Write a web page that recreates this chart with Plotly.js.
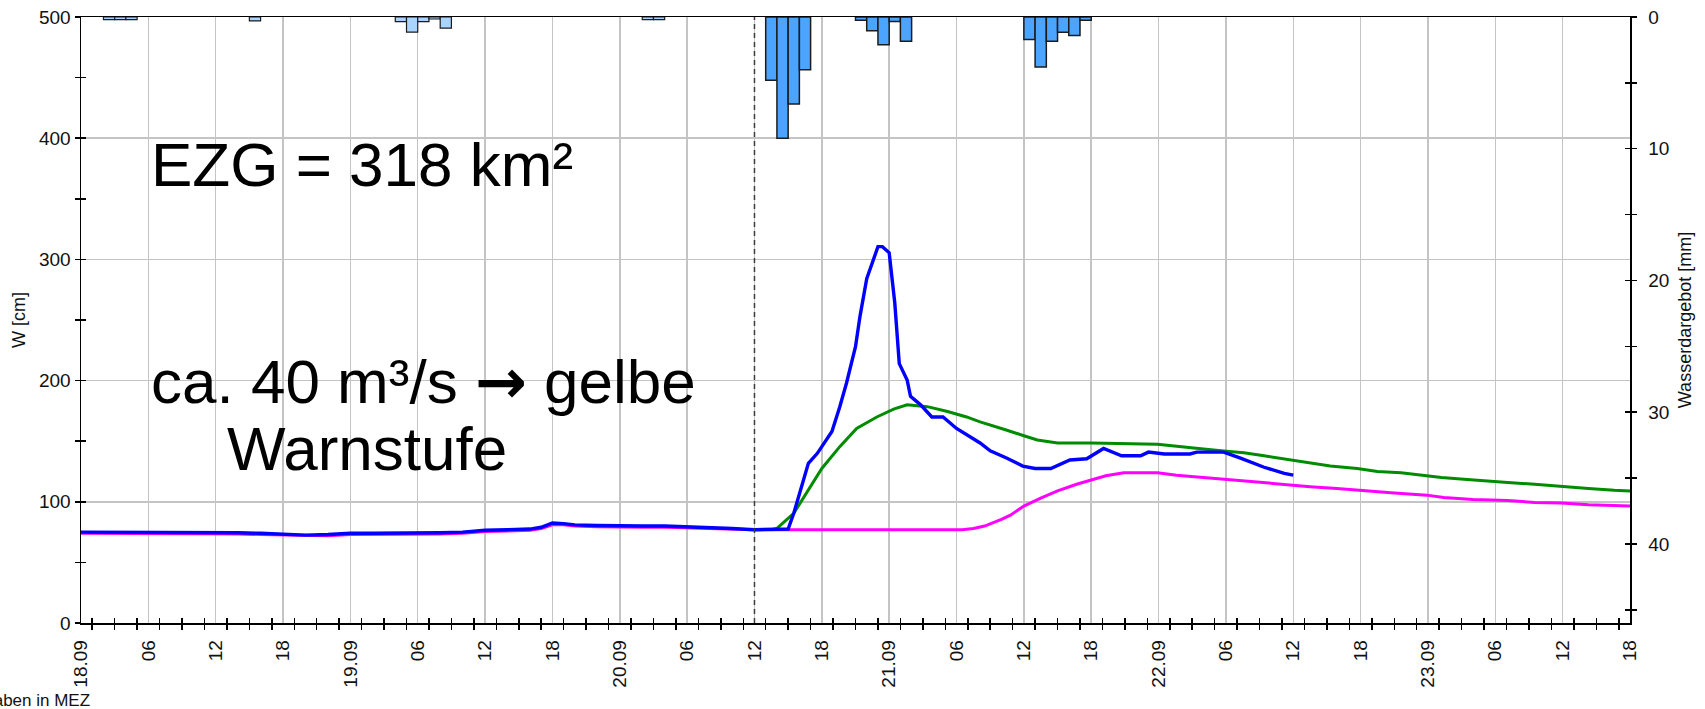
<!DOCTYPE html>
<html>
<head>
<meta charset="utf-8">
<script src="https://cdn.plot.ly/plotly-3.0.1.min.js"></script>
<style>
  html, body { margin: 0; padding: 0; background: #fff; }
  #chart { width: 1705px; height: 709px; }
</style>
</head>
<body>
<div id="chart"></div>
<script>
// Time axis: hours since 18.09 00:00 (MEZ)
const tickHours = [0, 6, 12, 18, 24, 30, 36, 42, 48, 54, 60, 66, 72, 78, 84, 90, 96, 102, 108, 114, 120, 126, 132, 138];
const tickLabels = ['18.09', '06', '12', '18', '19.09', '06', '12', '18', '20.09', '06', '12', '18',
                    '21.09', '06', '12', '18', '22.09', '06', '12', '18', '23.09', '06', '12', '18'];
const forecastStart = 60;   // 20.09 12:00
const axisEnd = 138;        // 23.09 18:00

// Gemessener Wasserstand W [cm]
const obsHours = [0, 4, 8, 12, 14, 16, 18, 20, 22, 24, 26, 28, 30, 32, 34, 36, 38, 40, 41, 42, 43, 44, 46, 48, 50, 52, 54, 56, 58, 60,
                  62, 63, 63.5, 64.2, 64.8, 65.6, 66.9, 67.6, 68.2, 69.0, 69.4, 70.0, 70.5, 71.0, 71.4, 72.0, 72.5, 72.9, 73.6, 73.9,
                  74.8, 75.8, 76.8, 78.0, 80.1, 81.0, 82.5, 83.9, 85.0, 86.4, 88.1, 89.6, 91.1, 92.7, 94.4, 95.1, 96.5, 98.8, 99.4,
                  101.8, 103.3, 105.4, 107.2, 108];
const obsLevel = [75, 75, 75, 75, 74.5, 74, 73.5, 72.5, 73, 74, 74, 74, 74, 74.5, 75, 76.5, 77, 77.5, 79, 82.5, 82, 81, 80.5, 80, 80, 80, 79.5, 79, 78, 77,
                  77, 77.5, 90.5, 112.5, 131.7, 140, 158, 178.5, 198, 228, 253, 284, 297, 310.5, 310.5, 305.5, 264, 214, 200.5, 187,
                  180, 170, 170, 160.5, 148.5, 142, 136, 129.5, 127.5, 127.5, 134.5, 135.5, 144, 138, 138, 141, 139.5, 139.5, 141,
                  141, 136, 128.5, 123.5, 122];

// Vorhersage mit Niederschlagsvorhersage W [cm]
const fcHours = [61.5, 62, 63.5, 64.7, 66.0, 67.6, 69.1, 70.9, 72.4, 73.6, 75.4, 77.2, 78.9, 80.1, 81.0, 82.5, 84.0, 85.2, 87.0, 90,
                 95.9, 98.2, 100.0, 101.8, 103.6, 105.4, 107.2, 109.5, 111.3, 113.7, 115.5, 117.6, 119.4, 121.2, 123.5, 125.3,
                 127.1, 129.5, 131.9, 134.3, 136.6, 138];
const fcLevel = [77, 78, 90.5, 108.5, 127.5, 145.5, 160.5, 170, 176.5, 180, 178.5, 174.5, 170, 166, 163.5, 159, 154.5, 151, 148.5, 148.5,
                 147.5, 145, 143.5, 142, 140.5, 138, 135.5, 132.5, 129.5, 127.5, 125, 124, 122, 120, 118.5, 117.5,
                 116, 114.5, 112.5, 111, 109.5, 109];

// Simulation ohne Niederschlagsvorhersage W [cm]
const simHours = [0, 4, 8, 12, 14, 16, 18, 20, 22, 24, 26, 28, 30, 32, 34, 36, 38, 40, 41, 42, 43, 44, 46, 48, 50, 52, 54, 56, 58, 60,
                  78.5, 79.5, 80.5, 81.0, 82.0, 82.8, 84.0, 85.5, 87.0, 88.7, 90.1, 91.3, 92.9, 95.9, 97.6, 99.4, 101.8, 103.6,
                  105.7, 107.8, 109.5, 111.9, 114.3, 116.7, 119.9, 121.4, 124.0, 127.1, 129.5, 131.9, 134.3, 138];
const simLevel = [74, 74, 74, 74, 73.5, 73, 72.5, 72, 72, 73, 73, 73, 73, 73.5, 74, 75.5, 76, 76.5, 78, 81, 81, 80, 79.5, 79, 79, 79, 78.5, 78, 77, 77,
                  77, 78, 80, 81.7, 85.5, 89, 96.5, 103, 109, 114.5, 118.5, 121.5, 124, 124, 122, 120.5, 119, 117.5,
                  115.5, 113.5, 112.5, 111, 109, 107.5, 105.5, 103.5, 102, 101, 99.5, 99, 97.5, 96.5];

// Wasserdargebot [mm] je Stunde (Beginn der Stunde)
const obsRainHours = [2, 3, 4, 15, 28, 29, 30, 31, 32, 50, 51];
const obsRainMm    = [0.2, 0.2, 0.2, 0.3, 0.35, 1.15, 0.35, 0.15, 0.85, 0.2, 0.2];
const fcRainHours  = [61, 62, 63, 64, 69, 70, 71, 72, 73, 84, 85, 86, 87, 88, 89];
const fcRainMm     = [4.8, 9.2, 6.6, 4.0, 0.25, 1.05, 2.1, 0.35, 1.85, 1.7, 3.8, 1.85, 1.15, 1.4, 0.25];

const FONT = 'Liberation Sans, Arial, sans-serif';
const tickFont = { family: FONT, size: 19, color: '#111' };
const titleFont = { family: FONT, size: 18, color: '#111' };
const gridColor = '#c4c4c4';

const traces = [
  {
    type: 'bar', x: obsRainHours, y: obsRainMm, xaxis: 'x', yaxis: 'y2',
    width: 1, offset: 0,
    marker: { color: '#a9d4ff', line: { color: '#1c1c1c', width: 1.2 } },
    hoverinfo: 'skip', showlegend: false
  },
  {
    type: 'bar', x: fcRainHours, y: fcRainMm, xaxis: 'x', yaxis: 'y2',
    width: 1, offset: 0,
    marker: { color: '#4ba5ff', line: { color: '#1c1c1c', width: 1.5 } },
    hoverinfo: 'skip', showlegend: false
  },
  {
    type: 'scatter', mode: 'lines', x: simHours, y: simLevel, xaxis: 'x', yaxis: 'y',
    line: { color: '#ff00ff', width: 3 }, hoverinfo: 'skip', showlegend: false
  },
  {
    type: 'scatter', mode: 'lines', x: fcHours, y: fcLevel, xaxis: 'x', yaxis: 'y',
    line: { color: '#008c00', width: 3 }, hoverinfo: 'skip', showlegend: false
  },
  {
    type: 'scatter', mode: 'lines', x: obsHours, y: obsLevel, xaxis: 'x', yaxis: 'y',
    line: { color: '#0000ff', width: 3.4 }, hoverinfo: 'skip', showlegend: false
  },
  // empty carriers so the inward tick axes are always laid out
  { type: 'scatter', x: [], y: [], xaxis: 'x2', yaxis: 'y', hoverinfo: 'skip', showlegend: false },
  { type: 'scatter', x: [], y: [], xaxis: 'x', yaxis: 'y3', hoverinfo: 'skip', showlegend: false },
  { type: 'scatter', x: [], y: [], xaxis: 'x', yaxis: 'y4', hoverinfo: 'skip', showlegend: false }
];

const bigFont = { family: FONT, size: 62, color: '#000' };
const arrow = '<span style="font-family:DejaVu Sans;font-weight:bold">→</span>';

const layout = {
  width: 1705, height: 709,
  margin: { l: 81, r: 75, t: 17, b: 86, pad: 0 },
  paper_bgcolor: '#ffffff', plot_bgcolor: '#ffffff',
  showlegend: false,
  bargap: 0,
  xaxis: {
    type: 'linear', range: [0, axisEnd], anchor: 'y',
    tickmode: 'array', tickvals: tickHours, ticktext: tickLabels,
    tickangle: -90, tickfont: tickFont,
    ticks: 'outside', ticklen: 5, tickcolor: 'rgba(0,0,0,0)', ticklabelstandoff: 3,
    minor: { tickmode: 'linear', tick0: 1, dtick: 2, ticks: 'outside', ticklen: 5, tickwidth: 1.5, tickcolor: '#000', showgrid: false },
    showgrid: true, gridcolor: gridColor, gridwidth: 1.5,
    showline: true, linecolor: '#000', linewidth: 1.5, mirror: true,
    zeroline: false, fixedrange: true
  },
  xaxis2: {
    type: 'linear', range: [0, axisEnd], overlaying: 'x', anchor: 'y', side: 'bottom',
    tickmode: 'linear', tick0: 1, dtick: 2,
    ticks: 'inside', ticklen: 5, tickwidth: 1.5, tickcolor: '#000',
    showticklabels: false, showgrid: false, showline: false, zeroline: false
  },
  yaxis: {
    range: [0, 500], anchor: 'x', side: 'left',
    tickmode: 'linear', tick0: 0, dtick: 100, tickfont: tickFont,
    ticks: 'outside', ticklen: 5, tickwidth: 1.5, tickcolor: '#000',
    minor: { tickmode: 'linear', tick0: 0, dtick: 50, ticks: 'outside', ticklen: 5, tickwidth: 1.5, tickcolor: '#000', showgrid: false },
    showgrid: true, gridcolor: gridColor, gridwidth: 1.5,
    showline: true, linecolor: '#000', linewidth: 1.5,
    zeroline: false,
    title: { text: 'W [cm]', font: titleFont, standoff: 8 }
  },
  yaxis3: {
    range: [0, 500], overlaying: 'y', anchor: 'x', side: 'left',
    tickmode: 'linear', tick0: 0, dtick: 50,
    ticks: 'inside', ticklen: 5, tickwidth: 1.5, tickcolor: '#000',
    showticklabels: false, showgrid: false, showline: false, zeroline: false
  },
  yaxis2: {
    range: [46, 0], overlaying: 'y', anchor: 'x', side: 'right',
    tickmode: 'linear', tick0: 0, dtick: 10, tickfont: tickFont,
    ticks: 'outside', ticklen: 5, tickwidth: 1.5, tickcolor: '#000', ticklabelstandoff: 8,
    minor: { tickmode: 'linear', tick0: 0, dtick: 5, ticks: 'outside', ticklen: 5, tickwidth: 1.5, tickcolor: '#000', showgrid: false },
    showgrid: false, showline: true, linecolor: '#000', linewidth: 1.5,
    zeroline: false,
    title: { text: 'Wasserdargebot [mm]', font: titleFont, standoff: 10 }
  },
  yaxis4: {
    range: [46, 0], overlaying: 'y', anchor: 'x', side: 'right',
    tickmode: 'linear', tick0: 0, dtick: 5,
    ticks: 'inside', ticklen: 5, tickwidth: 1.5, tickcolor: '#000',
    showticklabels: false, showgrid: false, showline: false, zeroline: false
  },
  shapes: [
    {
      type: 'line', xref: 'x', yref: 'paper',
      x0: forecastStart, x1: forecastStart, y0: 0, y1: 1,
      line: { color: '#3c3c3c', width: 1.5, dash: '5px,4px' }
    }
  ],
  annotations: [
    {
      text: 'EZG = 318 km²', xref: 'paper', yref: 'paper',
      x: 0.0439, y: 0.757, xanchor: 'left', yanchor: 'middle',
      showarrow: false, font: bigFont
    },
    {
      text: 'ca. 40 m³/s ' + arrow + ' gelbe', xref: 'paper', yref: 'paper',
      x: 0.0439, y: 0.398, xanchor: 'left', yanchor: 'middle',
      showarrow: false, font: bigFont
    },
    {
      text: 'Warnstufe', xref: 'paper', yref: 'paper',
      x: 0.093, y: 0.288, xanchor: 'left', yanchor: 'middle',
      showarrow: false, font: bigFont
    },
    {
      text: 'Zeitangaben in MEZ', xref: 'paper', yref: 'paper',
      x: 0.0071, y: -0.1287, xanchor: 'right', yanchor: 'middle',
      showarrow: false, font: { family: FONT, size: 17, color: '#111' }
    }
  ]
};

Plotly.newPlot('chart', traces, layout, { staticPlot: true, displayModeBar: false });
</script>
</body>
</html>
